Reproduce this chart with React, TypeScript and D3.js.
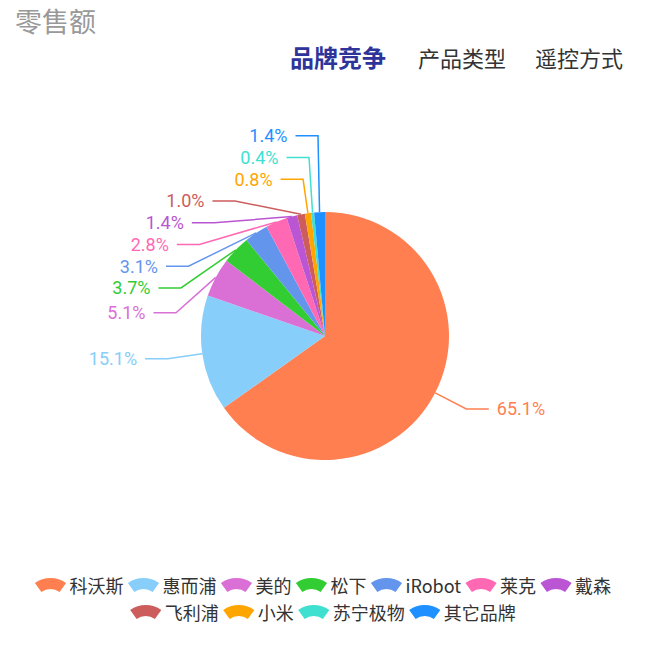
import React, { useMemo } from 'react';
import * as d3 from 'd3';

const titleText = '零售额';
const tabs = ['品牌竞争', '产品类型', '遥控方式'];
const brands = ['科沃斯', '惠而浦', '美的', '松下', 'iRobot', '莱克', '戴森', '飞利浦', '小米', '苏宁极物', '其它品牌'];
const shares = [65.1, 15.1, 5.1, 3.7, 3.1, 2.8, 1.4, 1.0, 0.8, 0.4, 1.4];
const colors = ['#ff7f50', '#87cefa', '#da70d6', '#32cd32', '#6495ed', '#ff69b4', '#ba55d3', '#cd5c5c', '#ffa500', '#40e0d0', '#1e90ff'];
const legendRows = [7, 4];

const W = 650;
const H = 645;
const cx = 325;
const cy = 336;
const R = 124;
const kinkR = 159;
const len2 = 22.5;
const textGap = 8;
const textOff = len2 + textGap;
const ellR = 181;
const thresh = 151;
const stepX = 15;
const labelH = 21.75;

const CJK = "'Noto Sans CJK SC', 'Noto Sans', sans-serif";
const NUM = "Roboto, 'Noto Sans', sans-serif";

type Lab = {
  i: number; dir: number; edge: [number, number]; natX: number; natY: number; y: number; tdx: number;
};

function stack(list: Lab[]) {
  list.sort((a, b) => a.y - b.y);
  const n = list.length;
  const top = (j: number) => list[j].y - labelH / 2;
  function changeUp(end: number, delta: number) {
    for (let j = end; j >= 0; j--) {
      list[j].y -= delta;
      if (j > 0 && top(j) > top(j - 1) + labelH) break;
    }
  }
  function changeDown(start: number, end: number, delta: number) {
    for (let j = start; j < end; j++) {
      list[j].y += delta;
      if (j > start && j + 1 < end && top(j + 1) > top(j) + labelH) {
        changeUp(j, delta / 2);
        return;
      }
    }
    changeUp(end - 1, delta / 2);
  }
  let lastY = 0;
  for (let i = 0; i < n; i++) {
    const delta = top(i) - lastY;
    if (delta < 0) changeDown(i, n, -delta);
    lastY = top(i) + labelH;
  }
}

function assignX(list: Lab[]) {
  const up = list.filter((d) => d.y < cy);
  const down = list.filter((d) => d.y >= cy);
  let last = 0;
  for (const d of up) {
    const dy = Math.abs(d.y - cy);
    const moved = Math.abs(d.y - d.natY) > 2;
    let tdx = Math.abs(d.natX - cx) + textOff;
    if (moved) {
      if (dy < thresh) tdx = Math.sqrt(ellR * ellR - dy * dy);
      if (tdx <= last) tdx = last + stepX;
    }
    d.tdx = tdx;
    last = tdx;
  }
  last = Infinity;
  for (const d of down) {
    const dy = Math.abs(d.y - cy);
    const moved = Math.abs(d.y - d.natY) > 2;
    let tdx = Math.abs(d.natX - cx) + textOff;
    if (moved) {
      if (dy < thresh) tdx = Math.sqrt(ellR * ellR - dy * dy);
      if (tdx >= last) tdx = last - stepX;
    }
    d.tdx = tdx;
    last = tdx;
  }
}

export default function App() {
  const arcs = useMemo(() => d3.pie<number>().sort(null).value((d) => d)(shares), []);
  const arcGen = d3.arc<d3.PieArcDatum<number>>().innerRadius(0).outerRadius(R);

  const labels = useMemo(() => {
    const items: Lab[] = arcs.map((a, i) => {
      const mid = (a.startAngle + a.endAngle) / 2;
      const s = Math.sin(mid);
      const c = Math.cos(mid);
      return {
        i,
        dir: s >= 0 ? 1 : -1,
        edge: [cx + R * s, cy - R * c] as [number, number],
        natX: cx + kinkR * s,
        natY: cy - kinkR * c,
        y: cy - kinkR * c,
        tdx: 0,
      };
    });
    const left = items.filter((d) => d.dir < 0);
    const right = items.filter((d) => d.dir > 0);
    stack(left);
    stack(right);
    assignX(left);
    assignX(right);
    return items;
  }, [arcs]);

  const legend = useMemo(() => {
    const ctx = document.createElement('canvas').getContext('2d')!;
    ctx.font = `18px ${CJK}`;
    const iconW = 31;
    const iconGap = 3.5;
    const itemGap = 4.5;
    const out: { i: number; x: number; y: number }[] = [];
    let idx = 0;
    legendRows.forEach((count, r) => {
      const ids = d3.range(idx, idx + count);
      idx += count;
      const widths = ids.map((i) => iconW + iconGap + ctx.measureText(brands[i]).width);
      const total = d3.sum(widths) + itemGap * (ids.length - 1);
      let x = cx - 2 - total / 2;
      ids.forEach((i, k) => {
        out.push({ i, x, y: 585 + r * 27 });
        x += widths[k] + itemGap;
      });
    });
    return out;
  }, []);

  const iconArc = d3
    .arc<any>()
    .innerRadius(15.5)
    .outerRadius(26.5)
    .startAngle((-36 * Math.PI) / 180)
    .endAngle((36 * Math.PI) / 180);

  const tabX = [290, 418, 535];

  return (
    <svg width={W} height={H} style={{ position: 'absolute', left: 0, top: 0, background: '#fff' }}>
      <text x={15} y={32} fontSize={27} fill="#999" fontFamily={CJK}>
        {titleText}
      </text>
      {tabs.map((t, k) => (
        <text
          key={t}
          x={tabX[k]}
          y={67}
          fontSize={k === 0 ? 24 : 22}
          fontWeight={k === 0 ? 'bold' : 'normal'}
          fill={k === 0 ? '#2e3499' : '#333'}
          fontFamily={CJK}
        >
          {t}
        </text>
      ))}
      <g transform={`translate(${cx},${cy})`}>
        {arcs.map((a, i) => (
          <path key={i} d={arcGen(a) || ''} fill={colors[i]} />
        ))}
      </g>
      {labels.map((d) => {
        const kx = cx + d.dir * (d.tdx - textOff);
        const ex = cx + d.dir * (d.tdx - textGap);
        const tx = cx + d.dir * d.tdx;
        return (
          <g key={d.i}>
            <polyline
              points={`${d.edge[0]},${d.edge[1]} ${kx},${d.y} ${ex},${d.y}`}
              fill="none"
              stroke={colors[d.i]}
              strokeWidth={1.5}
            />
            <text
              x={tx}
              y={d.y}
              dominantBaseline="central"
              textAnchor={d.dir < 0 ? 'end' : 'start'}
              fontSize={18}
              fill={colors[d.i]}
              fontFamily={NUM}
            >
              {shares[d.i].toFixed(1)}%
            </text>
          </g>
        );
      })}
      {legend.map((l) => (
        <g key={l.i}>
          <path d={iconArc({}) || ''} transform={`translate(${l.x + 15.5},${l.y + 19.5})`} fill={colors[l.i]} />
          <text x={l.x + 34.5} y={l.y} dominantBaseline="central" fontSize={18} fill="#333" fontFamily={CJK}>
            {brands[l.i]}
          </text>
        </g>
      ))}
    </svg>
  );
}
